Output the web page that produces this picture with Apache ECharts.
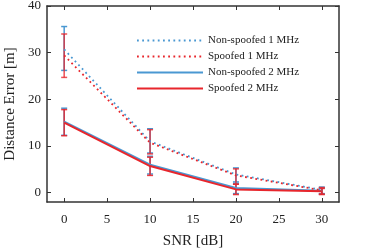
<!DOCTYPE html>
<html><head><meta charset="utf-8">
<script src="https://cdn.jsdelivr.net/npm/echarts@6/dist/echarts.min.js"></script>
<style>html,body{margin:0;padding:0;background:#fff}#c{width:374px;height:249px}</style>
</head><body><div id="c"></div>
<script>
const snr = [0, 10, 20, 30];
const xTicks = [0, 5, 10, 15, 20, 25, 30];
const yTicks = [0, 10, 20, 30, 40];
const seriesNames = ['Non-spoofed 1 MHz', 'Spoofed 1 MHz', 'Non-spoofed 2 MHz', 'Spoofed 2 MHz'];
const nonSpoofed1 = [30.7, 11.0, 3.9, 0.6];
const spoofed1 = [29.4, 10.7, 3.7, 0.5];
const nonSpoofed2 = [15.2, 6.0, 1.0, 0.4];
const spoofed2 = [15.0, 5.7, 0.7, 0.3];
const nonSpoofed1Low = [26.2, 8.5, 2.3, -0.3];
const nonSpoofed1High = [35.6, 13.7, 5.3, 1.2];
const spoofed1Low = [24.7, 8.3, 1.8, -0.3];
const spoofed1High = [34.0, 13.5, 5.1, 1.1];
const nonSpoofed2Low = [12.3, 4.0, -0.2, -0.2];
const nonSpoofed2High = [18.1, 7.8, 2.0, 1.0];
const spoofed2Low = [12.2, 3.7, -0.4, -0.4];
const spoofed2High = [17.8, 7.6, 1.8, 0.9];

const BLUE = '#4a98d2', RED = '#e8262c';
const FONT = 'Liberation Serif';

function pts(vals) { return snr.map((x, i) => [x, vals[i]]); }
function errData(lo, hi) { return snr.map((x, i) => [x, lo[i], hi[i]]); }
function errSeries(lo, hi, color, opacity) {
  return {
    type: 'custom', silent: true, z: 3,
    data: errData(lo, hi),
    renderItem: function (params, api) {
      const x = api.value(0);
      const a = api.coord([x, api.value(1)]);
      const b = api.coord([x, api.value(2)]);
      const hw = 3;
      const st = { stroke: color, lineWidth: 1.5, opacity: opacity };
      return { type: 'group', children: [
        { type: 'line', shape: { x1: a[0], y1: a[1], x2: b[0], y2: b[1] }, style: st },
        { type: 'line', shape: { x1: a[0] - hw, y1: a[1], x2: a[0] + hw, y2: a[1] }, style: st },
        { type: 'line', shape: { x1: b[0] - hw, y1: b[1], x2: b[0] + hw, y2: b[1] }, style: st }
      ]};
    }
  };
}
function lineSeries(name, vals, color, dotted, z) {
  return {
    name: name, type: 'line', data: pts(vals), symbol: 'none', showSymbol: false, z: z,
    lineStyle: { color: color, width: dotted ? 1.8 : 2, type: dotted ? [1.8, 3.4] : 'solid' },
    itemStyle: { color: color }
  };
}
const axisLine = { show: true, onZero: false, lineStyle: { color: '#333', width: 1.5 } };
const chart = echarts.init(document.getElementById('c'));
chart.setOption({
  animation: false,
  grid: { left: 47, top: 6, right: 35, bottom: 47, containLabel: false, outerBoundsMode: 'none' },
  legend: {
    orient: 'vertical', left: 131, top: 30, itemWidth: 66, itemHeight: 10, itemGap: 5,
    itemStyle: { opacity: 0 },
    textStyle: { fontFamily: FONT, fontSize: 11, color: '#222' },
    data: seriesNames.map(n => ({ name: n }))
  },
  xAxis: [{
    type: 'value', min: -2, max: 32, position: 'bottom',
    name: 'SNR [dB]', nameLocation: 'middle', nameGap: 32,
    nameTextStyle: { fontFamily: FONT, fontSize: 15, color: '#222' },
    axisLine: axisLine, splitLine: { show: false },
    axisTick: { inside: true, length: 4, customValues: xTicks, lineStyle: { color: '#333' } },
    axisLabel: { customValues: xTicks, fontFamily: FONT, fontSize: 13, color: '#222', margin: 11 }
  }, {
    type: 'value', min: -2, max: 32, position: 'top',
    axisLine: axisLine, splitLine: { show: false },
    axisTick: { inside: true, length: 4, customValues: xTicks, lineStyle: { color: '#333' } },
    axisLabel: { show: false }
  }],
  yAxis: [{
    type: 'value', min: -2, max: 40, position: 'left',
    name: 'Distance Error [m]', nameLocation: 'middle', nameGap: 27,
    nameTextStyle: { fontFamily: FONT, fontSize: 15, color: '#222' },
    axisLine: axisLine, splitLine: { show: false },
    axisTick: { inside: true, length: 4, customValues: yTicks, lineStyle: { color: '#333' } },
    axisLabel: { customValues: yTicks, fontFamily: FONT, fontSize: 13, color: '#222', margin: 6 }
  }, {
    type: 'value', min: -2, max: 40, position: 'right',
    axisLine: axisLine, splitLine: { show: false },
    axisTick: { inside: true, length: 4, customValues: yTicks, lineStyle: { color: '#333' } },
    axisLabel: { show: false }
  }],
  series: [
    lineSeries(seriesNames[0], nonSpoofed1, BLUE, true, 4),
    lineSeries(seriesNames[1], spoofed1, RED, true, 5),
    lineSeries(seriesNames[2], nonSpoofed2, BLUE, false, 4),
    lineSeries(seriesNames[3], spoofed2, RED, false, 5),
    errSeries(nonSpoofed1Low, nonSpoofed1High, BLUE, 1),
    errSeries(nonSpoofed2Low, nonSpoofed2High, BLUE, 1),
    errSeries(spoofed1Low, spoofed1High, RED, 0.8),
    errSeries(spoofed2Low, spoofed2High, RED, 0.9)
  ]
});
</script></body></html>
